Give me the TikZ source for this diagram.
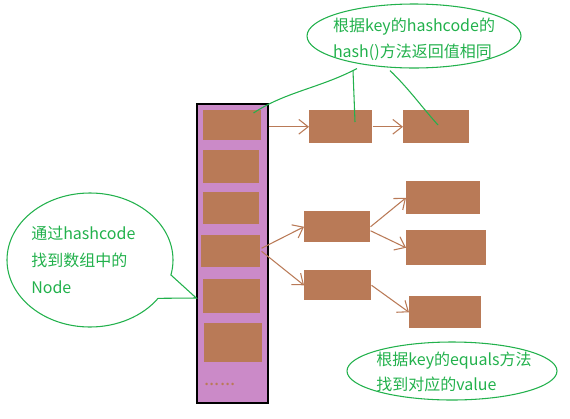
\documentclass[tikz,border=0pt]{standalone}
\usepackage{fontspec}
\newfontfamily\cjk{Noto Sans CJK SC}
\usetikzlibrary{arrows.meta,shapes.geometric,shapes.callouts}
\definecolor{paintbrown}{HTML}{B97A57}
\definecolor{paintgreen}{HTML}{22B14C}
\definecolor{arrfill}{HTML}{CB8AC8}
\begin{document}
\begin{tikzpicture}[x=0.75pt,y=-0.75pt,
  cell/.style 2 args={fill=paintbrown, draw=none, inner sep=0, anchor=north west,
    minimum width=#1*0.75pt, minimum height=#2*0.75pt},
  link/.style={draw=paintbrown, line width=0.8pt, -{Straight Barb[length=7pt,width=11pt]}},
  note/.style={draw=paintgreen, line width=0.8pt},
  notetext/.style={text=paintgreen, align=left, inner sep=0,
    font=\cjk\fontsize{12pt}{19.5pt}\selectfont}]
\useasboundingbox (0,0) rectangle (570,418);
% array
\node[fill=arrfill, draw=black, line width=1.1pt, inner sep=0,
  minimum width=71*0.75pt, minimum height=299*0.75pt] (arr) at (232.5,253.5) {};
\node[cell={58}{30}] (c1) at (203,110) {};
\node[cell={56}{33}] (c2) at (203,150) {};
\node[cell={56}{32}] (c3) at (203,192) {};
\node[cell={59}{32}] (c4) at (201,235) {};
\node[cell={57}{34}] (c5) at (203,279) {};
\node[cell={58}{39}] (c6) at (204,323) {};
\node[text=paintbrown, inner sep=0, font=\cjk\fontsize{14pt}{16pt}\selectfont] (dots) at (220,384) {......};
% chain nodes
\node[cell={63}{33}] (A) at (309,110) {};
\node[cell={66}{33}] (B) at (403,110) {};
\node[cell={66}{31}] (C) at (304,211) {};
\node[cell={74}{33}] (D) at (406,181) {};
\node[cell={80}{35}] (E) at (406,230) {};
\node[cell={67}{30}] (F) at (304,270) {};
\node[cell={72}{32}] (G) at (409,296) {};
% arrows
\draw[link] (arr.east |- A.west) -- (A.west);
\draw[link] (A.east) -- (B.west);
\draw[link] ([shift={(1,-3)}]c4.east) -- (C.west);
\draw[link] ([shift={(1,0)}]c4.east) -- (F.west);
\draw[link] (C.east) -- (D.west);
\draw[link] ([shift={(0,4)}]C.east) -- (E.west);
\draw[link] (F.east) -- (G.west);
% top note
\node[ellipse, note, inner sep=0, minimum width=214*0.75pt, minimum height=64*0.75pt] (e1) at (414,36) {};
\node[notetext] (t1) at (414,39) {根据key的hashcode的\\hash()方法返回值相同};
\draw[note] ([shift={(-57,0)}]e1.south) .. controls (320,88) and (285,92) .. ([shift={(-8,3)}]c1.north east);
\draw[note] ([shift={(-61,2)}]e1.south) -- ([shift={(46,12)}]A.north west);
\draw[note] ([shift={(-24,2)}]e1.south) .. controls (410,90) and (420,105) .. ([shift={(35,15)}]B.north west);
% left callout
\coordinate (tip) at ([shift={(0,44.5)}]arr.west);
\node[ellipse callout, note, inner sep=0, minimum width=166*0.75pt, minimum height=134*0.75pt,
  callout absolute pointer={(tip)}, callout pointer arc=22] (e2) at (90,260) {};
\node[notetext, anchor=west, font=\cjk\fontsize{12pt}{20pt}\selectfont] (t2) at (31,260) {通过hashcode\\找到数组中的\\Node};
% bottom note
\node[ellipse, note, inner sep=0, minimum width=210*0.75pt, minimum height=58*0.75pt] (e3) at (452,371) {};
\node[notetext, font=\cjk\fontsize{12pt}{18.75pt}\selectfont] (t3) at (454,372) {根据key的equals方法\\找到对应的value};
\end{tikzpicture}
\end{document}
